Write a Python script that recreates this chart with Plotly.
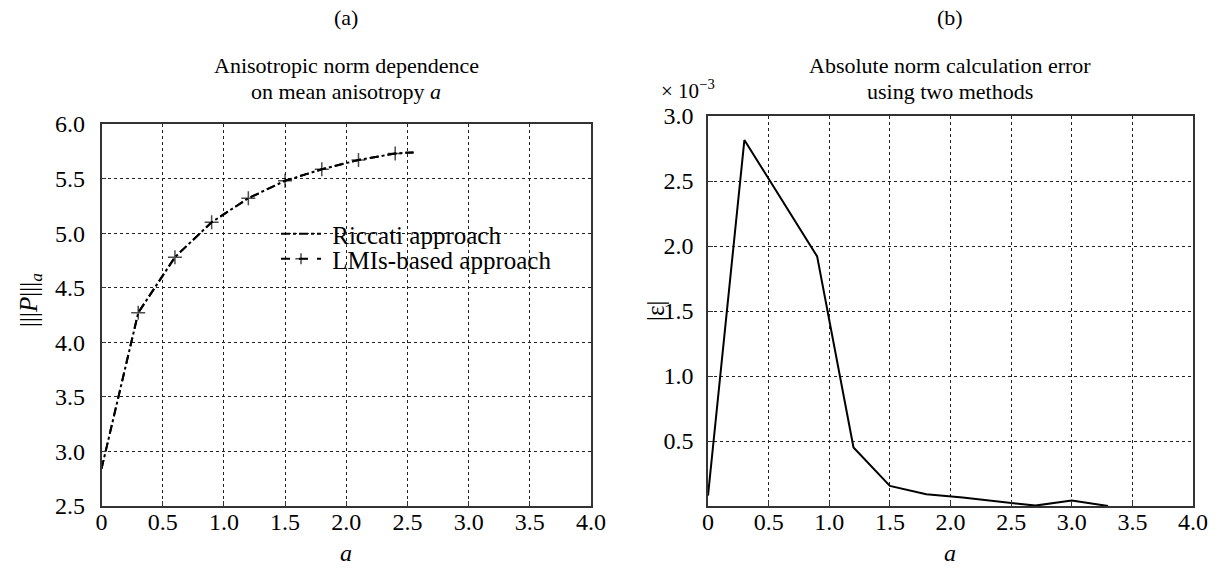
import plotly.graph_objects as go

# ---- data ----
a_left = [0.0, 0.3, 0.6, 0.9, 1.2, 1.5, 1.8, 2.1, 2.4, 2.55]
norm_riccati = [2.84, 4.27, 4.78, 5.10, 5.32, 5.48, 5.585, 5.67, 5.73, 5.74]
a_lmi = [0.0, 0.3, 0.6, 0.9, 1.2, 1.5, 1.8, 2.1, 2.4, 2.55]
norm_lmi = [2.84, 4.27, 4.78, 5.10, 5.32, 5.48, 5.585, 5.67, 5.73, 5.74]
lmi_marker_on = [False, True, True, True, True, True, True, True, True, False]

a_right = [0.0, 0.3, 0.9, 1.2, 1.5, 1.8, 2.1, 2.4, 2.7, 3.0, 3.3]
err = [0.08, 2.815, 1.92, 0.45, 0.155, 0.09, 0.065, 0.035, 0.003, 0.042, 0.0]

x_ticks = [0, 0.5, 1.0, 1.5, 2.0, 2.5, 3.0, 3.5, 4.0]
x_ticktext = ["0", "0.5", "1.0", "1.5", "2.0", "2.5", "3.0", "3.5", "4.0"]
yl_ticks = [2.5, 3.0, 3.5, 4.0, 4.5, 5.0, 5.5, 6.0]
yr_ticks = [0.5, 1.0, 1.5, 2.0, 2.5, 3.0]

FONT = "Liberation Serif"
W, H = 1221, 570


def px_x(p):
    return p / W


def px_y(p):
    return 1 - p / H


fig = go.Figure()
fig.add_trace(go.Scatter(
    x=a_left, y=norm_riccati, mode="lines", name="\u00a0Riccati approach",
    line=dict(color="black", width=2, dash="dashdot"), xaxis="x", yaxis="y",
    legend="legend"))
fig.add_trace(go.Scatter(
    x=a_lmi, y=norm_lmi, mode="lines+markers", name="\u00a0LMIs-based approach",
    line=dict(color="black", width=2, dash="dash"),
    marker=dict(symbol="cross-thin", size=[10 if m else 0 for m in lmi_marker_on],
                line=dict(color="black", width=1.5), color="black"),
    xaxis="x", yaxis="y", legend="legend2"))
fig.add_trace(go.Scatter(
    x=a_right, y=err, mode="lines", showlegend=False,
    line=dict(color="black", width=2), xaxis="x2", yaxis="y2"))

axis_common = dict(
    showline=True, mirror=True, linecolor="#333", linewidth=1.5,
    ticks="inside", ticklen=5, tickcolor="#333",
    showgrid=True, gridcolor="#222", griddash="dot", gridwidth=1,
    zeroline=False, automargin=False,
    tickfont=dict(family=FONT, size=24, color="black"),
)

legend_common = dict(xanchor="left", yanchor="top", bgcolor="rgba(0,0,0,0)",
                     borderwidth=0, itemwidth=40,
                     font=dict(family=FONT, size=25, color="black"))

fig.update_layout(
    width=W, height=H, autosize=False,
    margin=dict(l=0, r=0, t=0, b=0, pad=0, autoexpand=False),
    paper_bgcolor="white", plot_bgcolor="white",
    font=dict(family=FONT, color="black"),
    xaxis=dict(axis_common, domain=[px_x(101.5), px_x(591)], range=[0, 4],
               tickvals=x_ticks, ticktext=x_ticktext, anchor="y", ticklabelstandoff=-7),
    yaxis=dict(axis_common, domain=[px_y(506), px_y(124)], range=[2.5, 6.0],
               tickvals=yl_ticks, tickformat=".1f", anchor="x", ticklabelstandoff=10),
    xaxis2=dict(axis_common, domain=[px_x(708), px_x(1193)], range=[0, 4],
                tickvals=x_ticks, ticktext=x_ticktext, anchor="y2", ticklabelstandoff=-7),
    yaxis2=dict(axis_common, domain=[px_y(506), px_y(116)], range=[0, 3.0],
                tickvals=yr_ticks, tickformat=".1f", anchor="x2", ticklabelstandoff=8),
    legend=dict(legend_common, x=px_x(276), y=px_y(211)),
    legend2=dict(legend_common, x=px_x(276), y=px_y(236)),
    showlegend=True,
)

# white legend box hiding the grid behind the legend text
fig.add_shape(type="rect", xref="paper", yref="paper",
              x0=px_x(275), x1=px_x(562), y0=px_y(278), y1=px_y(209),
              fillcolor="white", line=dict(width=0), layer="between")

ann = [
    dict(text="(a)", x=px_x(346), y=px_y(18), size=22),
    dict(text="Anisotropic norm dependence", x=px_x(346), y=px_y(65), size=22),
    dict(text="on mean anisotropy <i>a</i>", x=px_x(346), y=px_y(91), size=22),
    dict(text="(b)", x=px_x(950), y=px_y(18), size=22),
    dict(text="Absolute norm calculation error", x=px_x(950), y=px_y(65), size=22),
    dict(text="using two methods", x=px_x(950), y=px_y(91), size=22),
    dict(text="× 10<sup>−3</sup>", x=px_x(688), y=px_y(89), size=21),
    dict(text="<i>a</i>", x=px_x(346), y=px_y(553), size=24),
    dict(text="<i>a</i>", x=px_x(950), y=px_y(553), size=24),
    dict(text="|||<i>P</i>|||<sub><i>a</i></sub>", x=px_x(30), y=px_y(300), size=25, textangle=-90),
    dict(text="|ε|", x=px_x(655), y=px_y(311), size=25, textangle=-90),
]
for a in ann:
    size = a.pop("size")
    fig.add_annotation(xref="paper", yref="paper", showarrow=False,
                       xanchor="center", yanchor="middle",
                       font=dict(family=FONT, size=size, color="black"), **a)

fig.write_html(
    "out.html",
    config={"displayModeBar": False},
    post_script="document.body.style.margin='0';document.body.style.padding='0';"
                "document.body.style.overflow='hidden';",
)
